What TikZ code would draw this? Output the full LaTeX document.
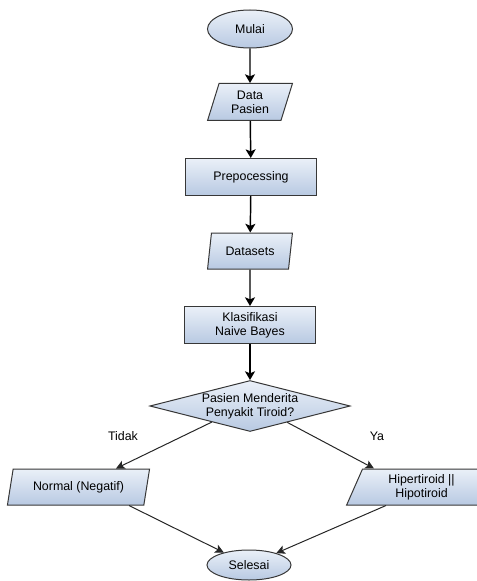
\documentclass[tikz,border=0pt]{standalone}
\usepackage{fontspec}
\setmainfont{Liberation Sans}
\usetikzlibrary{shapes.geometric,arrows.meta,calc}
\definecolor{topc}{RGB}{234,240,248}
\definecolor{botc}{RGB}{184,201,226}
\definecolor{edgec}{RGB}{55,55,55}
\tikzset{
 base/.style={draw=edgec, line width=0.75pt, top color=topc, bottom color=botc,
   font=\fontsize{9.3}{10.8}\selectfont, align=center, inner sep=0pt},
 term/.style={base, ellipse},
 proc/.style={base, rectangle, minimum width=98pt, minimum height=27.75pt},
 iobox/.style 2 args={base, trapezium, trapezium stretches=true,
   trapezium left angle=#1, trapezium right angle=#2},
 decision/.style={base, diamond, shape aspect=4, minimum width=150pt, minimum height=38.25pt},
 varrow/.style={draw=black, line width=1.1pt, -{Stealth[length=6.5pt,width=7.5pt,inset=1.5pt]}},
 darrow/.style={draw=black!85, line width=0.75pt, -{Stealth[length=6.5pt,width=6.5pt,inset=1.5pt]}},
 lbl/.style={font=\fontsize{9.3}{10.8}\selectfont, inner sep=0pt}
}
\begin{document}
\begin{tikzpicture}[x=0.75pt,y=-0.75pt]
\useasboundingbox (0,0) rectangle (477,581);
\node[term, minimum width=63.75pt, minimum height=28.5pt] (mulai) at (250,29) {Mulai};
\node[iobox={73}{107}, minimum width=63.75pt, minimum height=27.75pt] (dp) at (250,102) {Data\\Pasien};
\node[proc] (pre) at (251,177) {Prepocessing};
\node[iobox={74}{106}, minimum width=63.75pt, minimum height=27pt] (ds) at (250,251) {Datasets};
\node[proc] (kla) at (250,325) {Klasifikasi\\Naive Bayes};
\node[decision] (dec) at (250,406) {Pasien Menderita\\Penyakit Tiroid?};
\node[iobox={71}{109}, minimum width=107.25pt, minimum height=27pt] (normal) at (78.5,487) {Normal (Negatif)};
\node[iobox={71}{109}, minimum width=112.5pt, minimum height=27pt] (hiper) at (421.5,487) {Hipertiroid ||\\Hipotiroid};
\node[term, minimum width=63pt, minimum height=22.5pt] (sel) at (249,565) {Selesai};
\node[lbl] (tidak) at (123,436) {Tidak};
\node[lbl] (ya) at (377,436) {Ya};
\draw[varrow] (mulai) -- (dp);
\draw[varrow] (dp) -- (pre);
\draw[varrow] (pre) -- (ds);
\draw[varrow] (ds) -- (kla);
\draw[varrow] (kla) -- (dec);
\draw[darrow] ($(dec.west)!0.62!(dec.south)$) -- ($(normal.north)+(37.5,0)$);
\draw[darrow] ($(dec.east)!0.63!(dec.south)$) -- ($(hiper.north)+(-47.5,0)$);
\draw[darrow] ($(normal.south)+(50.5,0)$) -- (sel);
\draw[darrow] ($(hiper.south)+(-35.5,0)$) -- (sel);
\end{tikzpicture}
\end{document}
